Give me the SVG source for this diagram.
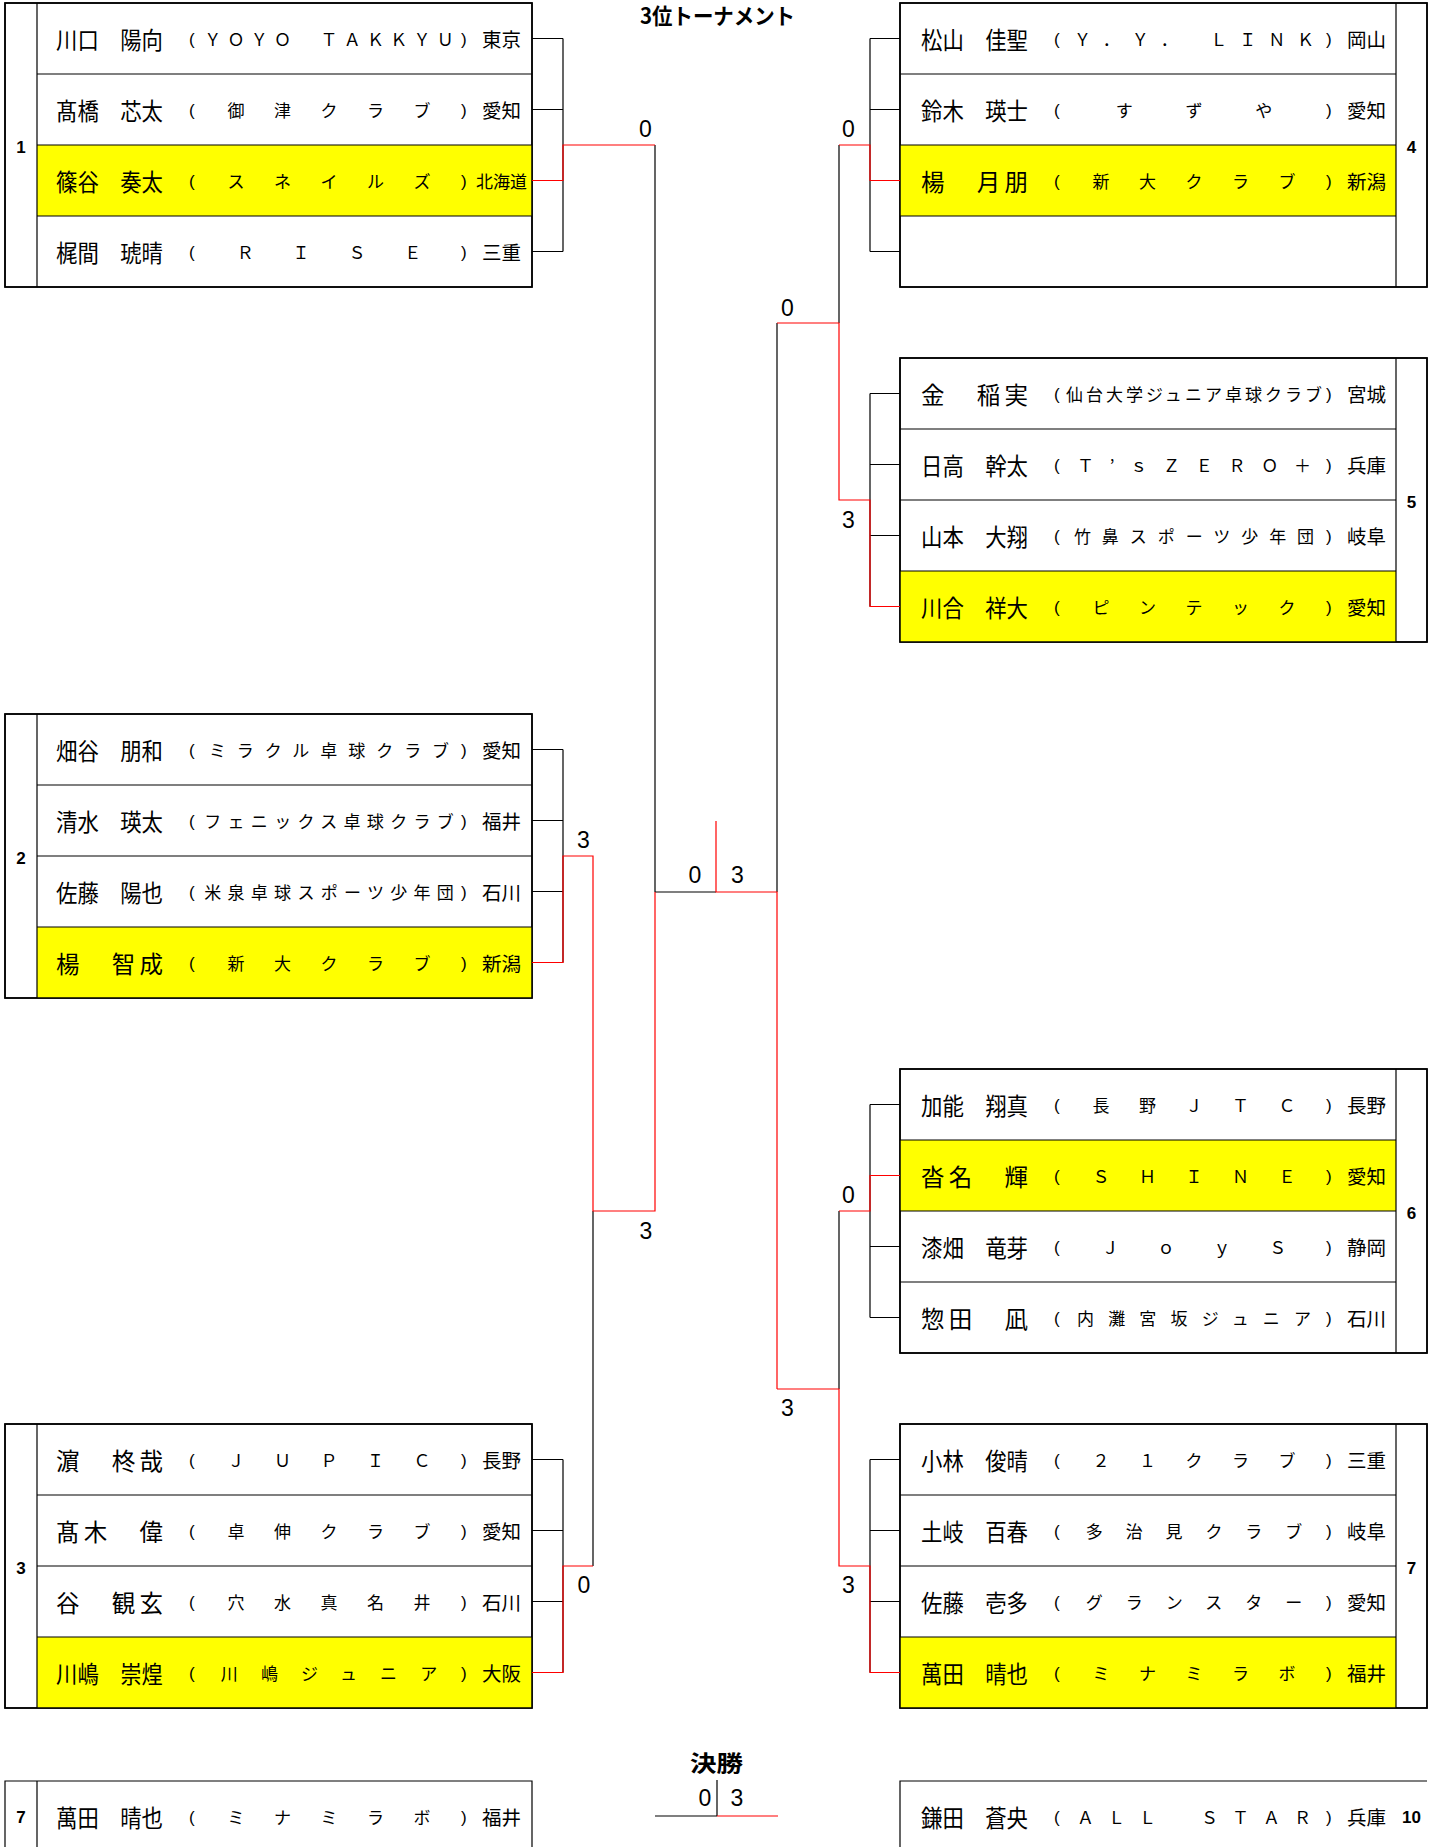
<svg xmlns="http://www.w3.org/2000/svg" width="1438" height="1847" viewBox="0 0 1438 1847">
<style>
.t{font-family:"Noto Sans CJK JP","Noto Sans CJK SC",sans-serif;fill:#000}
.nm{font-size:23.5px}
.cl{font-size:17px}
.pf{font-size:19.5px}
.pr{font-family:"Liberation Sans",Arial,sans-serif;font-size:17px}
.no{font-family:"Liberation Sans",Arial,sans-serif;font-weight:bold;font-size:17px;text-anchor:middle}
.sc{font-family:"Liberation Sans",Arial,sans-serif;font-size:23px;text-anchor:middle}
.ttl{font-weight:bold;font-size:22px}
.box{fill:#fff;stroke:#000;stroke-width:1.5}
.ln{stroke:#000;stroke-width:1.2;fill:none}
.win{fill:#ff0}
.k{stroke:#000;stroke-width:1.2;fill:none}
.r{stroke:#f00;stroke-width:1.2;fill:none}
</style>
<rect width="1438" height="1847" fill="#fff"/>

<text class="t ttl" x="640" y="23.5" textLength="155" lengthAdjust="spacingAndGlyphs">3位トーナメント</text>
<text class="t ttl" x="690" y="1771" textLength="53" lengthAdjust="spacingAndGlyphs">決勝</text>

<!-- Box 1 -->
<g id="box1">
<rect class="box" x="5" y="3" width="527" height="284"/>
<rect class="win" x="37" y="145" width="495" height="71"/>
<path class="ln" d="M37 74H532M37 145H532M37 216H532M37 3V287"/>
<rect x="5" y="3" width="527" height="284" fill="none" stroke="#000" stroke-width="1.5"/>
<text class="no" x="21" y="152.5">1</text>
<g transform="translate(56,38.5)"><text class="t nm" y="10" textLength="107" lengthAdjust="spacingAndGlyphs">川口　陽向</text><text class="pr" x="133" y="6.7">(</text><text class="t cl" x="148.25" y="7.3" textLength="249.5" lengthAdjust="spacing">ＹＯＹＯ　ＴＡＫＫＹＵ</text><text class="pr" x="405" y="6.7">)</text><text class="t pf" x="426" y="8.4">東京</text></g>
<g transform="translate(56,109.5)"><text class="t nm" y="10" textLength="107" lengthAdjust="spacingAndGlyphs">髙橋　芯太</text><text class="pr" x="133" y="6.7">(</text><text class="t cl" x="171.5" y="7.3" textLength="203" lengthAdjust="spacing">御津クラブ</text><text class="pr" x="405" y="6.7">)</text><text class="t pf" x="426" y="8.4">愛知</text></g>
<g transform="translate(56,180.5)"><text class="t nm" y="10" textLength="107" lengthAdjust="spacingAndGlyphs">篠谷　奏太</text><text class="pr" x="133" y="6.7">(</text><text class="t cl" x="171.5" y="7.3" textLength="203" lengthAdjust="spacing">スネイルズ</text><text class="pr" x="405" y="6.7">)</text><text class="t cl" x="420" y="7.3" textLength="51" lengthAdjust="spacingAndGlyphs">北海道</text></g>
<g transform="translate(56,251.5)"><text class="t nm" y="10" textLength="107" lengthAdjust="spacingAndGlyphs">梶間　琥晴</text><text class="pr" x="133" y="6.7">(</text><text class="t cl" x="180.8" y="7.3" textLength="184.4" lengthAdjust="spacing">ＲＩＳＥ</text><text class="pr" x="405" y="6.7">)</text><text class="t pf" x="426" y="8.4">三重</text></g>
</g>

<!-- Box 2 -->
<g id="box2">
<rect class="box" x="5" y="714" width="527" height="284"/>
<rect class="win" x="37" y="927" width="495" height="71"/>
<path class="ln" d="M37 785H532M37 856H532M37 927H532M37 714V998"/>
<rect x="5" y="714" width="527" height="284" fill="none" stroke="#000" stroke-width="1.5"/>
<text class="no" x="21" y="863.5">2</text>
<g transform="translate(56,749.5)"><text class="t nm" y="10" textLength="107" lengthAdjust="spacingAndGlyphs">畑谷　朋和</text><text class="pr" x="133" y="6.7">(</text><text class="t cl" x="152.9" y="7.3" textLength="240.2" lengthAdjust="spacing">ミラクル卓球クラブ</text><text class="pr" x="405" y="6.7">)</text><text class="t pf" x="426" y="8.4">愛知</text></g>
<g transform="translate(56,820.5)"><text class="t nm" y="10" textLength="107" lengthAdjust="spacingAndGlyphs">清水　瑛太</text><text class="pr" x="133" y="6.7">(</text><text class="t cl" x="148.25" y="7.3" textLength="249.5" lengthAdjust="spacing">フェニックス卓球クラブ</text><text class="pr" x="405" y="6.7">)</text><text class="t pf" x="426" y="8.4">福井</text></g>
<g transform="translate(56,891.5)"><text class="t nm" y="10" textLength="107" lengthAdjust="spacingAndGlyphs">佐藤　陽也</text><text class="pr" x="133" y="6.7">(</text><text class="t cl" x="148.25" y="7.3" textLength="249.5" lengthAdjust="spacing">米泉卓球スポーツ少年団</text><text class="pr" x="405" y="6.7">)</text><text class="t pf" x="426" y="8.4">石川</text></g>
<g transform="translate(56,962.5)"><text class="t nm" y="10" textLength="107" lengthAdjust="spacing">楊　智成</text><text class="pr" x="133" y="6.7">(</text><text class="t cl" x="171.5" y="7.3" textLength="203" lengthAdjust="spacing">新大クラブ</text><text class="pr" x="405" y="6.7">)</text><text class="t pf" x="426" y="8.4">新潟</text></g>
</g>

<!-- Box 3 -->
<g id="box3">
<rect class="box" x="5" y="1424" width="527" height="284"/>
<rect class="win" x="37" y="1637" width="495" height="71"/>
<path class="ln" d="M37 1495H532M37 1566H532M37 1637H532M37 1424V1708"/>
<rect x="5" y="1424" width="527" height="284" fill="none" stroke="#000" stroke-width="1.5"/>
<text class="no" x="21" y="1573.5">3</text>
<g transform="translate(56,1459.5)"><text class="t nm" y="10" textLength="107" lengthAdjust="spacing">濵　柊哉</text><text class="pr" x="133" y="6.7">(</text><text class="t cl" x="171.5" y="7.3" textLength="203" lengthAdjust="spacing">ＪＵＰＩＣ</text><text class="pr" x="405" y="6.7">)</text><text class="t pf" x="426" y="8.4">長野</text></g>
<g transform="translate(56,1530.5)"><text class="t nm" y="10" textLength="107" lengthAdjust="spacing">髙木　偉</text><text class="pr" x="133" y="6.7">(</text><text class="t cl" x="171.5" y="7.3" textLength="203" lengthAdjust="spacing">卓伸クラブ</text><text class="pr" x="405" y="6.7">)</text><text class="t pf" x="426" y="8.4">愛知</text></g>
<g transform="translate(56,1601.5)"><text class="t nm" y="10" textLength="107" lengthAdjust="spacing">谷　観玄</text><text class="pr" x="133" y="6.7">(</text><text class="t cl" x="171.5" y="7.3" textLength="203" lengthAdjust="spacing">穴水真名井</text><text class="pr" x="405" y="6.7">)</text><text class="t pf" x="426" y="8.4">石川</text></g>
<g transform="translate(56,1672.5)"><text class="t nm" y="10" textLength="107" lengthAdjust="spacingAndGlyphs">川嶋　崇煌</text><text class="pr" x="133" y="6.7">(</text><text class="t cl" x="164.86" y="7.3" textLength="216.3" lengthAdjust="spacing">川嶋ジュニア</text><text class="pr" x="405" y="6.7">)</text><text class="t pf" x="426" y="8.4">大阪</text></g>
</g>

<!-- Box 4 -->
<g id="box4">
<rect class="box" x="900" y="3" width="527" height="284"/>
<rect class="win" x="900" y="145" width="496" height="71"/>
<path class="ln" d="M900 74H1396M900 145H1396M900 216H1396M1396 3V287"/>
<rect x="900" y="3" width="527" height="284" fill="none" stroke="#000" stroke-width="1.5"/>
<text class="no" x="1411.5" y="152.5">4</text>
<g transform="translate(921,38.5)"><text class="t nm" y="10" textLength="107" lengthAdjust="spacingAndGlyphs">松山　佳聖</text><text class="pr" x="133" y="6.7">(</text><text class="t cl" x="152.9" y="7.3" textLength="240.2" lengthAdjust="spacing">Ｙ．Ｙ．　ＬＩＮＫ</text><text class="pr" x="405" y="6.7">)</text><text class="t pf" x="426" y="8.4">岡山</text></g>
<g transform="translate(921,109.5)"><text class="t nm" y="10" textLength="107" lengthAdjust="spacingAndGlyphs">鈴木　瑛士</text><text class="pr" x="133" y="6.7">(</text><text class="t cl" x="194.75" y="7.3" textLength="156.5" lengthAdjust="spacing">すずや</text><text class="pr" x="405" y="6.7">)</text><text class="t pf" x="426" y="8.4">愛知</text></g>
<g transform="translate(921,180.5)"><text class="t nm" y="10" textLength="107" lengthAdjust="spacing">楊　月朋</text><text class="pr" x="133" y="6.7">(</text><text class="t cl" x="171.5" y="7.3" textLength="203" lengthAdjust="spacing">新大クラブ</text><text class="pr" x="405" y="6.7">)</text><text class="t pf" x="426" y="8.4">新潟</text></g>
</g>

<!-- Box 5 -->
<g id="box5">
<rect class="box" x="900" y="358" width="527" height="284"/>
<rect class="win" x="900" y="571" width="496" height="71"/>
<path class="ln" d="M900 429H1396M900 500H1396M900 571H1396M1396 358V642"/>
<rect x="900" y="358" width="527" height="284" fill="none" stroke="#000" stroke-width="1.5"/>
<text class="no" x="1411.5" y="507.5">5</text>
<g transform="translate(921,393.5)"><text class="t nm" y="10" textLength="107" lengthAdjust="spacing">金　稲実</text><text class="pr" x="133" y="6.7">(</text><text class="t cl" x="144.93" y="7.3" textLength="256.1" lengthAdjust="spacing">仙台大学ジュニア卓球クラブ</text><text class="pr" x="405" y="6.7">)</text><text class="t pf" x="426" y="8.4">宮城</text></g>
<g transform="translate(921,464.5)"><text class="t nm" y="10" textLength="107" lengthAdjust="spacingAndGlyphs">日高　幹太</text><text class="pr" x="133" y="6.7">(</text><text class="t cl" x="156" y="7.3" textLength="234" lengthAdjust="spacing">Ｔ’ｓＺＥＲＯ＋</text><text class="pr" x="405" y="6.7">)</text><text class="t pf" x="426" y="8.4">兵庫</text></g>
<g transform="translate(921,535.5)"><text class="t nm" y="10" textLength="107" lengthAdjust="spacingAndGlyphs">山本　大翔</text><text class="pr" x="133" y="6.7">(</text><text class="t cl" x="152.9" y="7.3" textLength="240.2" lengthAdjust="spacing">竹鼻スポーツ少年団</text><text class="pr" x="405" y="6.7">)</text><text class="t pf" x="426" y="8.4">岐阜</text></g>
<g transform="translate(921,606.5)"><text class="t nm" y="10" textLength="107" lengthAdjust="spacingAndGlyphs">川合　祥大</text><text class="pr" x="133" y="6.7">(</text><text class="t cl" x="171.5" y="7.3" textLength="203" lengthAdjust="spacing">ピンテック</text><text class="pr" x="405" y="6.7">)</text><text class="t pf" x="426" y="8.4">愛知</text></g>
</g>

<!-- Box 6 -->
<g id="box6">
<rect class="box" x="900" y="1069" width="527" height="284"/>
<rect class="win" x="900" y="1140" width="496" height="71"/>
<path class="ln" d="M900 1140H1396M900 1211H1396M900 1282H1396M1396 1069V1353"/>
<rect x="900" y="1069" width="527" height="284" fill="none" stroke="#000" stroke-width="1.5"/>
<text class="no" x="1411.5" y="1218.5">6</text>
<g transform="translate(921,1104.5)"><text class="t nm" y="10" textLength="107" lengthAdjust="spacingAndGlyphs">加能　翔真</text><text class="pr" x="133" y="6.7">(</text><text class="t cl" x="171.5" y="7.3" textLength="203" lengthAdjust="spacing">長野ＪＴＣ</text><text class="pr" x="405" y="6.7">)</text><text class="t pf" x="426" y="8.4">長野</text></g>
<g transform="translate(921,1175.5)"><text class="t nm" y="10" textLength="107" lengthAdjust="spacing">沓名　輝</text><text class="pr" x="133" y="6.7">(</text><text class="t cl" x="171.5" y="7.3" textLength="203" lengthAdjust="spacing">ＳＨＩＮＥ</text><text class="pr" x="405" y="6.7">)</text><text class="t pf" x="426" y="8.4">愛知</text></g>
<g transform="translate(921,1246.5)"><text class="t nm" y="10" textLength="107" lengthAdjust="spacingAndGlyphs">漆畑　竜芽</text><text class="pr" x="133" y="6.7">(</text><text class="t cl" x="180.8" y="7.3" textLength="184.4" lengthAdjust="spacing">ＪｏｙＳ</text><text class="pr" x="405" y="6.7">)</text><text class="t pf" x="426" y="8.4">静岡</text></g>
<g transform="translate(921,1317.5)"><text class="t nm" y="10" textLength="107" lengthAdjust="spacing">惣田　凪</text><text class="pr" x="133" y="6.7">(</text><text class="t cl" x="156" y="7.3" textLength="234" lengthAdjust="spacing">内灘宮坂ジュニア</text><text class="pr" x="405" y="6.7">)</text><text class="t pf" x="426" y="8.4">石川</text></g>
</g>

<!-- Box 7 -->
<g id="box7">
<rect class="box" x="900" y="1424" width="527" height="284"/>
<rect class="win" x="900" y="1637" width="496" height="71"/>
<path class="ln" d="M900 1495H1396M900 1566H1396M900 1637H1396M1396 1424V1708"/>
<rect x="900" y="1424" width="527" height="284" fill="none" stroke="#000" stroke-width="1.5"/>
<text class="no" x="1411.5" y="1573.5">7</text>
<g transform="translate(921,1459.5)"><text class="t nm" y="10" textLength="107" lengthAdjust="spacingAndGlyphs">小林　俊晴</text><text class="pr" x="133" y="6.7">(</text><text class="t cl" x="171.5" y="7.3" textLength="203" lengthAdjust="spacing">２１クラブ</text><text class="pr" x="405" y="6.7">)</text><text class="t pf" x="426" y="8.4">三重</text></g>
<g transform="translate(921,1530.5)"><text class="t nm" y="10" textLength="107" lengthAdjust="spacingAndGlyphs">土岐　百春</text><text class="pr" x="133" y="6.7">(</text><text class="t cl" x="164.86" y="7.3" textLength="216.3" lengthAdjust="spacing">多治見クラブ</text><text class="pr" x="405" y="6.7">)</text><text class="t pf" x="426" y="8.4">岐阜</text></g>
<g transform="translate(921,1601.5)"><text class="t nm" y="10" textLength="107" lengthAdjust="spacingAndGlyphs">佐藤　壱多</text><text class="pr" x="133" y="6.7">(</text><text class="t cl" x="164.86" y="7.3" textLength="216.3" lengthAdjust="spacing">グランスター</text><text class="pr" x="405" y="6.7">)</text><text class="t pf" x="426" y="8.4">愛知</text></g>
<g transform="translate(921,1672.5)"><text class="t nm" y="10" textLength="107" lengthAdjust="spacingAndGlyphs">萬田　晴也</text><text class="pr" x="133" y="6.7">(</text><text class="t cl" x="171.5" y="7.3" textLength="203" lengthAdjust="spacing">ミナミラボ</text><text class="pr" x="405" y="6.7">)</text><text class="t pf" x="426" y="8.4">福井</text></g>
</g>

<!-- Final: left -->
<g id="final-left">
<path class="ln" d="M5 1860V1781H532V1860M37 1781V1860" stroke-width="1.5"/>
<text class="no" x="21" y="1822.5">7</text>
<g transform="translate(56,1816.5)"><text class="t nm" y="10" textLength="107" lengthAdjust="spacingAndGlyphs">萬田　晴也</text><text class="pr" x="133" y="6.7">(</text><text class="t cl" x="171.5" y="7.3" textLength="203" lengthAdjust="spacing">ミナミラボ</text><text class="pr" x="405" y="6.7">)</text><text class="t pf" x="426" y="8.4">福井</text></g>
</g>

<!-- Final: right -->
<g id="final-right">
<path class="ln" d="M900 1860V1781H1427" stroke-width="1.5"/>
<text class="no" x="1411.5" y="1822.5">10</text>
<g transform="translate(921,1816.5)"><text class="t nm" y="10" textLength="107" lengthAdjust="spacingAndGlyphs">鎌田　蒼央</text><text class="pr" x="133" y="6.7">(</text><text class="t cl" x="156" y="7.3" textLength="234" lengthAdjust="spacing">ＡＬＬ　ＳＴＡＲ</text><text class="pr" x="405" y="6.7">)</text><text class="t pf" x="426" y="8.4">兵庫</text></g>
</g>

<!-- Connectors -->
<g id="connectors">
<path class="k" d="M532 38.5H563M532 109.5H563M532 251.5H563M563 38.5V251.5
M532 749.5H563M532 820.5H563M532 891.5H563M563 749.5V962.5
M532 1459.5H563M532 1530.5H563M532 1601.5H563M563 1459.5V1672.5
M655 145V892M593 1566V1211M655 892H716
M777 323V892M839 145V323M839 1211V1389
M870 38.5H900M870 109.5H900M870 251.5H900M870 38.5V251.5
M870 393.5H900M870 464.5H900M870 535.5H900M870 393.5V606.5
M870 1104.5H900M870 1246.5H900M870 1317.5H900M870 1104.5V1317.5
M870 1459.5H900M870 1530.5H900M870 1601.5H900M870 1459.5V1672.5
M655 1816H717M717 1780V1816"/>
<path class="r" d="M532 180.5H563V145H655
M532 962.5H563V856H593V1211H655V892
M532 1672.5H563V1566H593
M716 821V892H777V1389
M900 180.5H870V145H839
M900 606.5H870V500H839V323H777
M900 1175.5H870V1211H839
M900 1672.5H870V1566H839V1389H777
M717 1816H778"/>
<g id="scores">
<text class="sc" x="645.5" y="137">0</text>
<text class="sc" x="848.5" y="137">0</text>
<text class="sc" x="583.5" y="848">3</text>
<text class="sc" x="584" y="1593">0</text>
<text class="sc" x="646" y="1239">3</text>
<text class="sc" x="787.5" y="316">0</text>
<text class="sc" x="787.5" y="1416">3</text>
<text class="sc" x="848.5" y="528">3</text>
<text class="sc" x="848.5" y="1203">0</text>
<text class="sc" x="848.5" y="1593">3</text>
<text class="sc" x="695" y="883">0</text>
<text class="sc" x="737.5" y="883">3</text>
<text class="sc" x="705" y="1806">0</text>
<text class="sc" x="737" y="1806">3</text>
</g>
</g>
</svg>
